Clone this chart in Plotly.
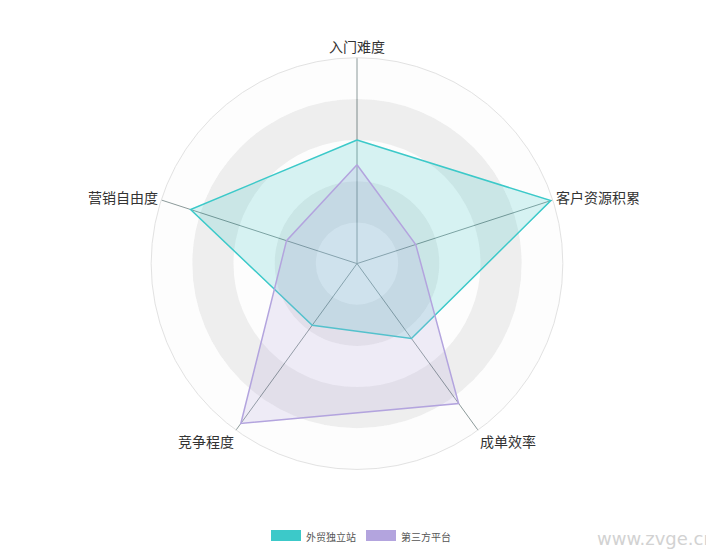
import plotly.graph_objects as go

categories = ["入门难度", "客户资源积累", "成单效率", "竞争程度", "营销自由度"]
duli_zhan = [60, 99, 45, 37, 85]      # 外贸独立站
disanfang = [48, 30, 84, 96, 36]      # 第三方平台
series_names = ["外贸独立站", "第三方平台"]
ring_levels = [20, 40, 60, 80, 100]

teal = "#3cc9c9"
purple = "#b3a4de"

theta = [i * 360 / len(categories) for i in range(len(categories))]

fig = go.Figure()

# alternating split areas, ECharts style
prev = 0
for i, lvl in enumerate(ring_levels):
    fig.add_trace(go.Barpolar(
        r=[lvl - prev], base=[prev], theta=[0], width=[360],
        marker=dict(color="rgba(250,250,250,0.3)" if i % 2 == 0 else "rgba(200,200,200,0.3)",
                    line=dict(width=0)),
        showlegend=False, hoverinfo="skip"))
    prev = lvl

for name, vals, col, fill in [
    (series_names[0], duli_zhan, teal, "rgba(60,201,201,0.2)"),
    (series_names[1], disanfang, purple, "rgba(179,164,222,0.2)"),
]:
    fig.add_trace(go.Scatterpolar(
        r=vals + vals[:1], theta=theta + theta[:1],
        mode="lines", fill="toself", fillcolor=fill,
        line=dict(color=col, width=1.5),
        name=name, legendgroup=name, showlegend=False))
    # solid swatch for the legend
    fig.add_trace(go.Scatterpolar(
        r=[0], theta=[0], mode="lines", fill="toself", fillcolor=col,
        line=dict(color=col, width=10), name=name, legendgroup=name,
        hoverinfo="skip"))

# page body has an 8px margin, so the figure is 8px smaller each way
fig.update_layout(
    width=706, height=544,
    margin=dict(l=0, r=0, t=0, b=0),
    paper_bgcolor="white",
    font=dict(family="Noto Sans CJK SC, sans-serif", color="#333"),
    polar=dict(
        domain=dict(x=[142 / 706, 556 / 706], y=[80 / 544, 494 / 544]),
        bgcolor="white",
        barmode="overlay",
        radialaxis=dict(range=[0, 100], showticklabels=False, showgrid=False,
                        showline=False, ticks=""),
        angularaxis=dict(
            rotation=90, direction="clockwise",
            tickmode="array", tickvals=theta, ticktext=categories,
            tickfont=dict(size=14, color="#333"),
            showline=True, linecolor="#e2e2e2", linewidth=1,
            showgrid=True, gridcolor="#5e7272", gridwidth=1, ticks=""),
    ),
    legend=dict(orientation="h", x=0.5, xanchor="center", y=0.022, yanchor="middle",
                font=dict(size=10, color="#555"), itemwidth=30),
    annotations=[dict(text="www.zvge.cn", x=1.004, y=11 / 544, xref="paper", yref="paper",
                      xanchor="right", yanchor="middle", showarrow=False,
                      font=dict(size=18, color="#d2d2d2", family="DejaVu Sans"))],
)

fig.write_html("out.html")
